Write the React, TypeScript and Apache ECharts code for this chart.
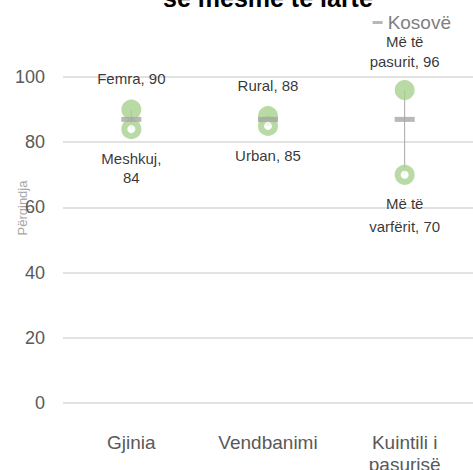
import React, { useEffect, useRef } from "react";
import * as echarts from "echarts";

const categories = ["Gjinia", "Vendbanimi", "Kuintili i\npasurisë"];
const kosovo = [87, 87, 87];
const highValues = [90, 88, 96];
const highLabels = ["Femra, 90", "Rural, 88", "Më të\npasurit, 96"];
const lowValues = [84, 85, 70];
const lowLabels = ["Meshkuj,\n84", "Urban, 85", "Më të\nvarfërit, 70"];
const yTicks = { min: 0, max: 100, interval: 20 };

const GREEN = "#a9d18e";
const GRAY = "#a6a6a6";
const FONT = "'Liberation Sans', Arial, sans-serif";

export default function App() {
  const ref = useRef<HTMLDivElement>(null);
  useEffect(() => {
    if (!ref.current) return;
    const chart = echarts.init(ref.current, null, { renderer: "svg" });
    chart.setOption({
      animation: false,
      textStyle: { fontFamily: FONT },
      graphic: [
        {
          type: "text",
          left: 163,
          top: -15,
          style: { text: "se mesme te larte", font: `bold 25px ${FONT}`, fill: "#000" },
        },
        {
          type: "text",
          x: 22,
          y: 208,
          rotation: Math.PI / 2,
          style: {
            text: "Përqindja",
            font: `13px ${FONT}`,
            fill: GRAY,
            align: "center",
            verticalAlign: "middle",
          },
        },
      ],
      legend: {
        right: 17,
        top: 8,
        data: [{ name: "Kosovë", icon: "rect" }],
        itemWidth: 10,
        itemHeight: 3,
        itemGap: 3,
        textStyle: { color: "#7f7f7f", fontSize: 19, fontFamily: FONT },
      },
      grid: { left: 63, right: 0, top: 77, bottom: 67, outerBoundsMode: "none", containLabel: false },
      xAxis: {
        type: "category",
        data: categories,
        axisLine: { show: false },
        axisTick: { show: false },
        axisLabel: { color: "#595959", fontSize: 19, margin: 28, lineHeight: 22, fontFamily: FONT },
      },
      yAxis: {
        type: "value",
        min: yTicks.min,
        max: yTicks.max,
        interval: yTicks.interval,
        axisLine: { show: false },
        axisTick: { show: false },
        splitLine: { lineStyle: { color: "#d9d9d9", width: 1.5 } },
        axisLabel: { color: "#595959", fontSize: 18, margin: 18, fontFamily: FONT },
      },
      series: [
        {
          type: "custom",
          name: "range",
          silent: true,
          z: 1,
          data: categories.map((_, i) => [i, lowValues[i], highValues[i]]),
          renderItem: (params: any, api: any) => {
            const p1 = api.coord([api.value(0), api.value(1)]);
            const p2 = api.coord([api.value(0), api.value(2)]);
            return {
              type: "line",
              shape: { x1: p1[0], y1: p1[1], x2: p2[0], y2: p2[1] },
              style: { stroke: GRAY, lineWidth: 1 },
            };
          },
        },
        {
          type: "scatter",
          name: "Kosovë",
          z: 3,
          symbol: "rect",
          symbolSize: [20, 5],
          itemStyle: { color: GRAY },
          data: kosovo,
        },
        {
          type: "scatter",
          name: "high",
          z: 2,
          symbol: "circle",
          symbolSize: 20,
          itemStyle: { color: GREEN },
          data: highValues.map((v, i) => ({
            value: v,
            label: {
              show: true,
              position: "top",
              distance: i === 2 ? 9 : 11,
              formatter: highLabels[i],
              color: "#000",
              fontSize: 15,
              lineHeight: 20,
              fontFamily: FONT,
            },
          })),
        },
        {
          type: "scatter",
          name: "low",
          z: 2,
          symbol: "circle",
          symbolSize: 14,
          itemStyle: { color: "#fff", borderColor: GREEN, borderWidth: 6 },
          data: lowValues.map((v, i) => ({
            value: v,
            label: {
              show: true,
              position: "bottom",
              distance: i === 2 ? 7 : 10,
              formatter: lowLabels[i],
              color: "#000",
              fontSize: 15,
              lineHeight: i === 2 ? 23 : 19,
              fontFamily: FONT,
            },
          })),
        },
      ],
    });
    return () => chart.dispose();
  }, []);
  return <div ref={ref} style={{ width: 473, height: 470, position: "absolute", left: 0, top: 0 }} />;
}
